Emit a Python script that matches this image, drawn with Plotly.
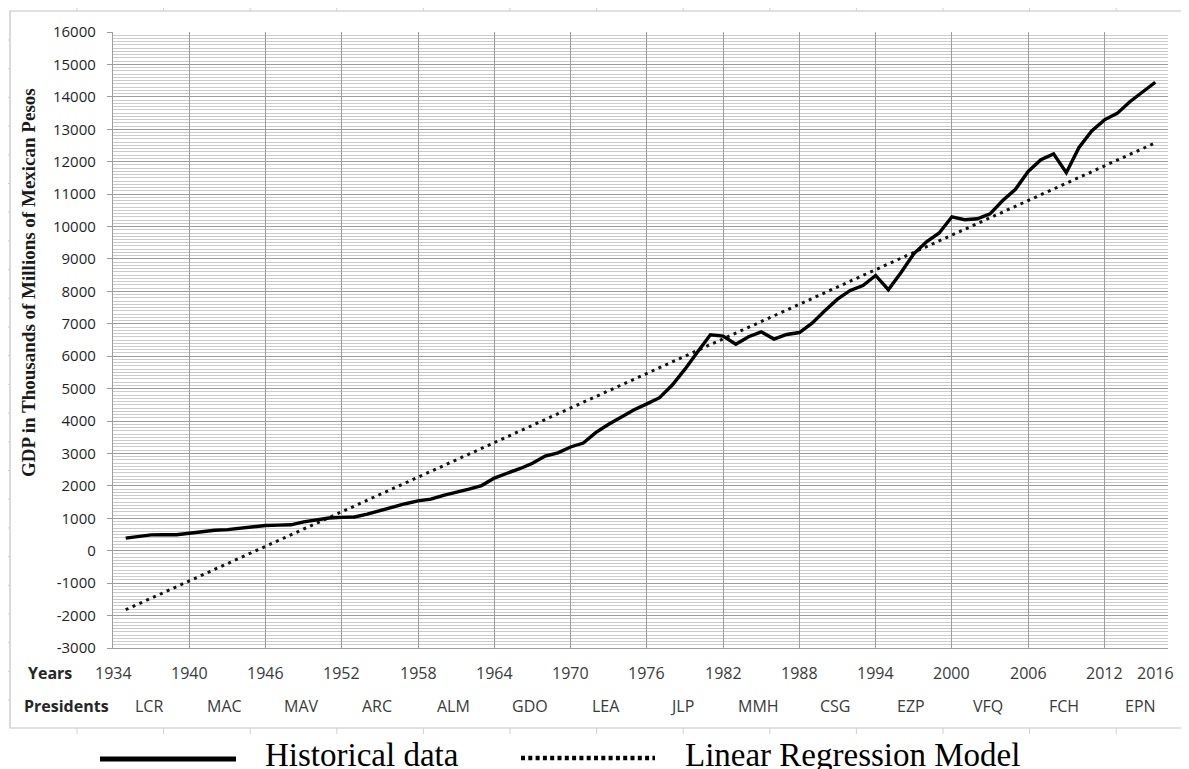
import plotly.graph_objects as go

# ---------------- data ----------------
years = list(range(1935, 2017))
gdp_historical = [
    390, 440, 490, 493, 493, 540, 590, 630, 650, 700,          # 1935-1944
    745, 780, 790, 800, 890, 960, 1010, 1030, 1040, 1130,      # 1945-1954
    1240, 1360, 1450, 1540, 1590, 1710, 1800, 1900, 2010, 2240,  # 1955-1964
    2390, 2530, 2700, 2920, 3020, 3200, 3320, 3650, 3900, 4130,  # 1965-1974
    4350, 4530, 4720, 5110, 5600, 6140, 6660, 6620, 6370, 6600,  # 1975-1984
    6750, 6530, 6670, 6730, 7020, 7400, 7760, 8030, 8180, 8490,  # 1985-1994
    8050, 8580, 9160, 9530, 9800, 10300, 10210, 10240, 10390, 10800,  # 1995-2004
    11150, 11700, 12060, 12240, 11660, 12440, 12950, 13290, 13490, 13850,  # 2005-2014
    14160, 14450,                                              # 2015-2016
]
regression_years = [1935, 2016]
regression_values = [-1820, 12580]

y_tick_values = list(range(-3000, 16001, 1000))
y_tick_text = [str(v) for v in y_tick_values]

year_tick_values = [1934, 1940, 1946, 1952, 1958, 1964, 1970, 1976, 1982,
                    1988, 1994, 2000, 2006, 2012]
year_label_values = year_tick_values + [2016]
year_label_text = [str(y) for y in year_label_values]

presidents = ["LCR", "MAC", "MAV", "ARC", "ALM", "GDO", "LEA", "JLP",
              "MMH", "CSG", "EZP", "VFQ", "FCH", "EPN"]
president_term_start = [1934, 1940, 1946, 1952, 1958, 1964, 1970, 1976,
                        1982, 1988, 1994, 2000, 2006, 2012]

y_title = "GDP in Thousands of Millions of Mexican Pesos"
legend_labels = ["Historical data", "Linear Regression Model"]

# ---------------- layout helpers (screen pixel -> paper) ----------------
OFF = 8                      # default page body margin
FW, FH = 1189 - OFF, 769 - OFF
PL, PT, PR, PB = 113, 32, 1168, 648   # plot area in screen pixels
L, T = PL - OFF, PT - OFF
W, H = PR - PL, PB - PT


def px(x):
    return (x - PL) / W


def py(y):
    return (PB - y) / H


MAJOR = "#9d9d9d"
MINOR = "#cbcbcb"
SANS = "'Open Sans', Lato, sans-serif"
SERIF = "'Liberation Serif', 'Times New Roman', serif"

fig = go.Figure()

fig.add_trace(go.Scatter(
    x=regression_years, y=regression_values, mode="lines",
    line=dict(color="#111111", width=3, dash="3px,4.5px"),
    showlegend=False, hoverinfo="skip",
))
fig.add_trace(go.Scatter(
    x=years, y=gdp_historical, mode="lines",
    line=dict(color="#000000", width=3.4),
    showlegend=False,
))

annotations = []
for v, t in zip(year_label_values, year_label_text):
    annotations.append(dict(
        x=v, xref="x", y=py(673), yref="paper", text=t, showarrow=False,
        xanchor="center", yanchor="middle",
        font=dict(family=SANS, size=16, color="#3a3a3a"),
    ))
for name, start in zip(presidents, president_term_start):
    annotations.append(dict(
        x=start + 2.8, xref="x", y=py(706), yref="paper", text=name,
        showarrow=False, xanchor="center", yanchor="middle",
        font=dict(family=SANS, size=16, color="#3a3a3a"),
    ))
annotations.append(dict(
    x=px(26), xref="paper", y=py(673), yref="paper", text="<b>Years</b>",
    showarrow=False, xanchor="left", yanchor="middle",
    font=dict(family=SANS, size=16, color="#262626"),
))
annotations.append(dict(
    x=px(22), xref="paper", y=py(706), yref="paper", text="<b>Presidents</b>",
    showarrow=False, xanchor="left", yanchor="middle",
    font=dict(family=SANS, size=16, color="#262626"),
))
annotations.append(dict(
    x=px(28), xref="paper", y=py(283), yref="paper", text="<b>" + y_title + "</b>",
    showarrow=False, xanchor="center", yanchor="middle", textangle=-90,
    font=dict(family=SERIF, size=19, color="#1a1a1a"),
))
annotations.append(dict(
    x=px(263), xref="paper", y=py(735), yref="paper", text=legend_labels[0],
    showarrow=False, xanchor="left", yanchor="top",
    font=dict(family=SERIF, size=33, color="#000000"),
))
annotations.append(dict(
    x=px(683), xref="paper", y=py(735), yref="paper", text=legend_labels[1],
    showarrow=False, xanchor="left", yanchor="top",
    font=dict(family=SERIF, size=33, color="#000000"),
))

shapes = []
shapes.append(dict(type="rect", xref="paper", yref="paper",
                   x0=px(10), x1=px(1200), y0=py(728), y1=py(11),
                   line=dict(color="#c4c4c4", width=1.2), layer="below"))
xt = 77.0
while xt < 1189:
    shapes.append(dict(type="line", xref="paper", yref="paper",
                       x0=px(xt), x1=px(xt), y0=py(728), y1=py(734),
                       line=dict(color="#d0d0d0", width=1)))
    shapes.append(dict(type="line", xref="paper", yref="paper",
                       x0=px(xt), x1=px(xt), y0=py(5), y1=py(11),
                       line=dict(color="#d0d0d0", width=1)))
    xt += 86.6
yt = 40.0
while yt < 728:
    shapes.append(dict(type="line", xref="paper", yref="paper",
                       x0=px(4), x1=px(10), y0=py(yt), y1=py(yt),
                       line=dict(color="#d0d0d0", width=1)))
    yt += 28.7
shapes.append(dict(type="line", xref="paper", yref="paper",
                   x0=px(100), x1=px(236), y0=py(759), y1=py(759),
                   line=dict(color="#000000", width=5)))
shapes.append(dict(type="line", xref="paper", yref="paper",
                   x0=px(521), x1=px(655), y0=py(758), y1=py(758),
                   line=dict(color="#000000", width=4.5, dash="4px,3.3px")))

fig.update_layout(
    width=FW, height=FH, autosize=False,
    margin=dict(l=L, r=FW - L - W, t=T, b=FH - T - H, autoexpand=False),
    plot_bgcolor="white", paper_bgcolor="white",
    showlegend=False,
    annotations=annotations,
    shapes=shapes,
    xaxis=dict(
        range=[1934, 2017], tickvals=year_tick_values, showticklabels=False,
        showgrid=True, gridcolor=MAJOR, gridwidth=1.3, zeroline=False,
        showline=True, linecolor=MAJOR, linewidth=1.3, ticks="",
        fixedrange=True, automargin=False,
    ),
    yaxis=dict(
        range=[-3000, 16000], tickvals=y_tick_values, ticktext=y_tick_text,
        showgrid=True, gridcolor=MAJOR, gridwidth=1.3, zeroline=False,
        showline=True, linecolor=MAJOR, linewidth=1.3,
        ticks="outside", ticklen=5, tickcolor=MAJOR, tickwidth=1.3,
        ticklabelstandoff=8,
        tickfont=dict(family=SANS, size=15, color="#1f1f1f"),
        minor=dict(dtick=100, tick0=0, showgrid=True, gridcolor=MINOR,
                   gridwidth=1, ticks=""),
        fixedrange=True, automargin=False,
    ),
)

fig.write_html("out.html")
